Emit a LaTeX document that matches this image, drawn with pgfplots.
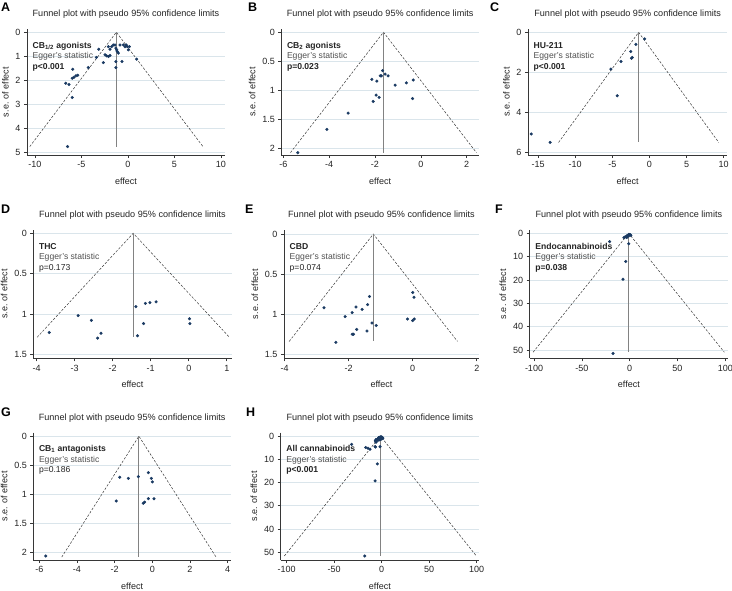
\documentclass[border=0pt]{standalone}
\usepackage{fontspec}
\setmainfont{Liberation Sans}
\usepackage{pgfplots}
\pgfplotsset{compat=1.18}
\usepackage{pgfplotstable}
\definecolor{dotc}{RGB}{26,58,98}
\definecolor{gridc}{RGB}{218,229,235}
\definecolor{axc}{RGB}{55,55,55}
\definecolor{txt}{RGB}{35,35,35}
\definecolor{egg}{RGB}{80,80,80}
\definecolor{vline}{RGB}{130,130,130}

\pgfplotstableread{
x se
-6.7 2.12
-6.35 2.17
-6.0 2.71
-5.95 1.54
-6.0 1.91
-5.8 1.87
-5.6 1.81
-5.4 1.79
-4.27 1.47
-3.4 1.05
-3.15 0.71
-2.65 1.26
-2.47 0.94
-2.3 0.98
-2.1 1.01
-1.94 0.97
-2.1 0.6
-1.94 0.71
-1.75 0.6
-1.58 0.53
-1.4 0.53
-1.3 0.66
-1.22 0.73
-1.15 0.8
-1.04 0.87
-1.3 1.22
-1.3 1.47
-0.65 1.22
-0.86 0.53
-0.5 0.53
-0.2 0.53
-0.07 0.6
0.14 0.6
0.04 0.73
-0.32 0.6
0.93 1.12
-6.5 4.75
}\dataA

\pgfplotstableread{
x se
-5.37 2.07
-4.1 1.67
-3.17 1.39
-2.14 0.81
-1.92 0.84
-1.77 0.75
-1.72 0.75
-1.67 0.66
-1.56 0.72
-1.43 0.75
-1.12 0.91
-0.63 0.87
-0.33 0.82
-0.36 1.14
-1.95 1.08
-1.82 1.12
-2.08 1.19
}\dataB

\pgfplotstableread{
x se
-15.9 5.08
-13.36 5.5
-5.18 1.84
-3.82 1.46
-4.32 3.17
-2.5 0.96
-2.41 1.3
-2.32 1.26
-1.82 0.6
-0.64 0.33
}\dataC

\pgfplotstableread{
x se
-3.67 1.23
-2.91 1.02
-2.56 1.08
-2.4 1.30
-2.31 1.24
-1.39 0.91
-1.14 0.87
-1.02 0.86
-0.86 0.85
-1.19 1.12
-1.35 1.27
0.02 1.06
0.03 1.12
}\dataD

\pgfplotstableread{
x se
-2.77 0.92
-2.4 1.35
-2.11 1.03
-1.89 0.98
-1.77 0.91
-1.58 0.94
-1.41 0.88
-1.35 0.78
-1.75 1.19
-1.85 1.25
-1.89 1.25
-1.43 1.21
-1.27 1.11
-1.14 1.14
-0.16 1.06
0.0 1.08
0.05 1.06
0.0 0.73
0.04 0.79
}\dataE

\pgfplotstableread{
x se
-5 1.6
-3.5 1.3
-2.5 1.0
-1.5 0.7
-0.5 0.5
0.5 0.6
1.2 0.9
-3 1.8
-6 1.9
-1 1.2
}\dataFc

\pgfplotstableread{
x se
-20.9 3.6
-1 4.5
-4.2 12.1
-7 19.7
-17.4 51.5
}\dataFo

\pgfplotstableread{
x se
-5.66 2.07
-1.73 0.71
-1.27 0.73
-0.74 0.70
-1.91 1.12
-0.21 0.63
-0.05 0.73
0 0.79
-0.21 1.08
0.09 1.08
-0.48 1.16
-0.41 1.14
}\dataG

\pgfplotstableread{
x se
-31.6 3.6
-16.8 5.0
-14.4 5.3
-12.3 5.7
-7.0 4.6
-1.75 4.6
-4.6 12.0
-7.0 19.3
-17.9 51.6
}\dataH

\pgfplotsset{
 fp/.style={
  scale only axis, anchor=south west,
  axis x line*=bottom, axis y line*=left,
  y dir=reverse,
  ymajorgrids, grid style={gridc, line width=0.6pt},
  tick align=outside, major tick length=3pt,
  axis line style={axc, line width=0.6pt},
  every tick/.style={axc, line width=0.6pt},
  tick label style={font=\fontsize{9}{10}\selectfont, text=txt},
  /pgf/number format/assume math mode=true,
  xlabel=effect, ylabel={s.e. of effect},
  label style={font=\fontsize{9}{10}\selectfont, text=txt},
  xlabel style={at={(axis description cs:0.5,0)}, anchor=base, yshift=-29pt},
  title={Funnel plot with pseudo 95\% confidence limits},
  title style={font=\fontsize{9.1}{10}\selectfont, text=txt, at={(axis description cs:0.5,1)}, anchor=base, yshift=6.5pt},
  clip=false,
  scaled ticks=false,
 },
 dots/.style={only marks, mark=*, mark size=1.35pt, mark options={draw=dotc, fill=dotc}},
 fun/.style={axc, line width=0.5pt, dash pattern=on 2.4pt off 1.6pt, no marks},
 vl/.style={vline, line width=1.1pt, no marks},
}

\newcommand{\ann}[3]{%
 \node[anchor=base west, inner sep=0pt, font=\fontsize{8.6}{10}\selectfont\bfseries, text=txt] at (axis description cs:0,1) [xshift=5.5pt, yshift=-19pt] {#1};
 \node[anchor=base west, inner sep=0pt, font=\fontsize{8.6}{10}\selectfont, text=egg] at (axis description cs:0,1) [xshift=5.5pt, yshift=-29.5pt] {Egger's statistic};
 \node[anchor=base west, inner sep=0pt, font=\fontsize{8.6}{10}\selectfont, text=txt] at (axis description cs:0,1) [xshift=5.5pt, yshift=-40pt] {#3};
}
\newcommand{\plab}[3]{\node[anchor=base west, inner sep=0pt, font=\fontsize{12.5}{12.5}\selectfont\bfseries] at (#1pt,-#2pt) {#3};}

\begin{document}
\begin{tikzpicture}
\path[use as bounding box] (0,0) rectangle (732pt,-591pt);

\plab{1}{12}{A}\plab{248}{12}{B}\plab{490}{12}{C}
\plab{1}{214}{D}\plab{245}{214}{E}\plab{495}{214}{F}
\plab{1}{416}{G}\plab{246}{416}{H}

% A
\begin{axis}[fp, at={(27pt,-155pt)}, width=198pt, height=125.7pt,
  xmin=-10.86, xmax=10.43, ymin=-0.12, ymax=5.1,
  xtick={-10,-5,0,5,10}, ytick={0,1,2,3,4,5}]
\addplot[fun] coordinates {(-10.56,4.75) (-1.25,0) (8.06,4.75)};
\addplot[vl] coordinates {(-1.25,0) (-1.25,4.75)};
\addplot[dots] table[x=x,y=se] {\dataA};
\ann{CB\textsubscript{1/2} agonists}{}{\textbf{p<0.001}}
\end{axis}

% B
\begin{axis}[fp, at={(281.3pt,-155pt)}, width=197.7pt, height=125.7pt,
  xmin=-6.09, xmax=2.54, ymin=-0.05, ymax=2.11,
  xtick={-6,-4,-2,0,2}, ytick={0,0.5,1,1.5,2}]
\addplot[fun] coordinates {(-5.69,2.07) (-1.63,0) (2.43,2.07)};
\addplot[vl] coordinates {(-1.63,0) (-1.63,2.07)};
\addplot[dots] table[x=x,y=se] {\dataB};
\ann{CB\textsubscript{2} agonists}{}{\textbf{p=0.023}}
\end{axis}

% C
\begin{axis}[fp, at={(528pt,-155pt)}, width=199.3pt, height=125.7pt,
  xmin=-16.35, xmax=10.49, ymin=-0.15, ymax=6.13,
  xtick={-15,-10,-5,0,5,10}, ytick={0,2,4,6}]
\addplot[fun] coordinates {(-12.23,5.5) (-1.45,0) (9.33,5.5)};
\addplot[vl] coordinates {(-1.45,0) (-1.45,5.5)};
\addplot[dots] table[x=x,y=se] {\dataC};
\ann{HU-211}{}{\textbf{p<0.001}}
\end{axis}

% D
\begin{axis}[fp, at={(33.3pt,-358.3pt)}, width=198.4pt, height=128.3pt,
  xmin=-4.09, xmax=1.13, ymin=-0.04, ymax=1.55,
  xtick={-4,-3,-2,-1,0,1}, ytick={0,0.5,1,1.5}]
\addplot[fun] coordinates {(-3.99,1.29) (-1.46,0) (1.07,1.29)};
\addplot[vl] coordinates {(-1.46,0) (-1.46,1.29)};
\addplot[dots] table[x=x,y=se] {\dataD};
\ann{THC}{}{p=0.173}
\end{axis}

% E
\begin{axis}[fp, at={(284pt,-358.3pt)}, width=195pt, height=128.3pt,
  xmin=-4.02, xmax=2.07, ymin=-0.05, ymax=1.55,
  xtick={-4,-2,0,2}, ytick={0,0.5,1,1.5}]
\addplot[fun] coordinates {(-3.86,1.34) (-1.23,0) (1.40,1.34)};
\addplot[vl] coordinates {(-1.23,0) (-1.23,1.34)};
\addplot[dots] table[x=x,y=se] {\dataE};
\ann{CBD}{}{p=0.074}
\end{axis}

% F
\begin{axis}[fp, at={(529.7pt,-358.3pt)}, width=198.3pt, height=128.3pt,
  xmin=-104.5, xmax=102.8, ymin=-1.4, ymax=53.6,
  xtick={-100,-50,0,50,100}, ytick={0,10,20,30,40,50}]
\addplot[fun] coordinates {(-100.96,51) (-1,0) (98.96,51)};
\addplot[vl] coordinates {(-1,0) (-1,51)};
\addplot[dots] table[x=x,y=se] {\dataFc};
\addplot[dots] table[x=x,y=se] {\dataFo};
\ann{Endocannabinoids}{}{\textbf{p=0.038}}
\end{axis}

% G
\begin{axis}[fp, at={(33.3pt,-560pt)}, width=197.7pt, height=127.3pt,
  xmin=-6.32, xmax=4.18, ymin=-0.06, ymax=2.14,
  xtick={-6,-4,-2,0,2,4}, ytick={0,0.5,1,1.5,2}]
\addplot[fun] coordinates {(-4.81,2.09) (-0.71,0) (3.39,2.09)};
\addplot[vl] coordinates {(-0.71,0) (-0.71,2.09)};
\addplot[dots] table[x=x,y=se] {\dataG};
\ann{CB\textsubscript{1} antagonists}{}{p=0.186}
\end{axis}

% H
\begin{axis}[fp, at={(280.7pt,-560pt)}, width=198.3pt, height=127.3pt,
  xmin=-106.3, xmax=102.4, ymin=-1.4, ymax=53.3,
  xtick={-100,-50,0,50,100}, ytick={0,10,20,30,40,50}]
\addplot[fun] coordinates {(-102.5,51.6) (-1.4,0) (99.7,51.6)};
\addplot[vl] coordinates {(-1.4,0) (-1.4,51.6)};
\addplot[dots] table[x=x,y=se] {\dataA};
\addplot[dots] table[x=x,y=se] {\dataB};
\addplot[dots] table[x=x,y=se] {\dataD};
\addplot[dots] table[x=x,y=se] {\dataE};
\addplot[dots] table[x=x,y=se] {\dataFc};
\addplot[dots] table[x=x,y=se] {\dataG};
\addplot[dots] table[x=x,y=se] {\dataH};
\ann{All cannabinoids}{}{\textbf{p<0.001}}
\end{axis}
\end{tikzpicture}
\end{document}
